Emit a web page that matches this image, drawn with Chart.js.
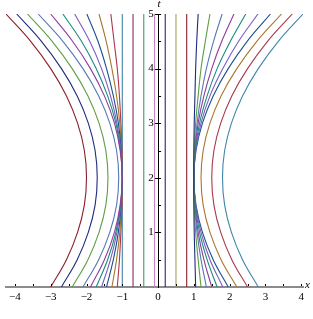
<!DOCTYPE html>
<html>
<head>
<meta charset="utf-8">
<script src="https://cdn.jsdelivr.net/npm/chart.js@4.4.1/dist/chart.umd.min.js"></script>
<style>
  html, body { margin: 0; padding: 0; background: #fff; }
  #wrap { width: 313px; height: 319px; position: relative; }
</style>
</head>
<body>
<div id="wrap"><canvas id="chart"></canvas></div>
<script>
// --- Data ---
const tSteps = [0, 0.5, 1, 1.5, 2, 2.5, 3, 3.5, 4, 4.5, 5];

// left curves turning at x = -2, -1.7, -1.4, -1.1
const leftOuter = [
    [-3, -2.56, -2.25, -2.06, -2, -2.06, -2.25, -2.56, -3, -3.56, -4.25],
    [-2.7, -2.26, -1.95, -1.76, -1.7, -1.76, -1.95, -2.26, -2.7, -3.26, -3.95],
    [-2.4, -1.96, -1.65, -1.46, -1.4, -1.46, -1.65, -1.96, -2.4, -2.96, -3.65],
    [-2.1, -1.66, -1.35, -1.16, -1.1, -1.16, -1.35, -1.66, -2.1, -2.66, -3.35]
];
// left curves touching x = -1
const leftInner = [
    [-1.89, -1.5, -1.22, -1.06, -1, -1.06, -1.22, -1.5, -1.89, -2.39, -3.0],
    [-1.73, -1.41, -1.18, -1.05, -1, -1.05, -1.18, -1.41, -1.73, -2.14, -2.66],
    [-1.58, -1.33, -1.15, -1.04, -1, -1.04, -1.15, -1.33, -1.58, -1.91, -2.33],
    [-1.44, -1.25, -1.11, -1.03, -1, -1.03, -1.11, -1.25, -1.44, -1.68, -1.99],
    [-1.29, -1.16, -1.07, -1.02, -1, -1.02, -1.07, -1.16, -1.29, -1.45, -1.65],
    [-1.14, -1.08, -1.04, -1.01, -1, -1.01, -1.04, -1.08, -1.14, -1.23, -1.32]
];
// straight lines in the middle
const verticals = [-1, -0.7, -0.4, -0.1, 0.2, 0.5, 0.8];
// right curves touching x = 1
const rightInner = [
    [1.05, 1.03, 1.01, 1.0, 1, 1.0, 1.01, 1.03, 1.05, 1.08, 1.12],
    [1.2, 1.12, 1.05, 1.01, 1, 1.01, 1.05, 1.12, 1.2, 1.32, 1.45],
    [1.35, 1.2, 1.09, 1.02, 1, 1.02, 1.09, 1.2, 1.35, 1.55, 1.79],
    [1.5, 1.28, 1.12, 1.03, 1, 1.03, 1.12, 1.28, 1.5, 1.78, 2.12],
    [1.65, 1.37, 1.16, 1.04, 1, 1.04, 1.16, 1.37, 1.65, 2.02, 2.45],
    [1.81, 1.45, 1.2, 1.05, 1, 1.05, 1.2, 1.45, 1.81, 2.25, 2.79],
    [1.96, 1.54, 1.24, 1.06, 1, 1.06, 1.24, 1.54, 1.96, 2.49, 3.14]
];
// right curves turning at x = 1.2, 1.5, 1.8
const rightOuter = [
    [2.2, 1.76, 1.45, 1.26, 1.2, 1.26, 1.45, 1.76, 2.2, 2.76, 3.45],
    [2.5, 2.06, 1.75, 1.56, 1.5, 1.56, 1.75, 2.06, 2.5, 3.06, 3.75],
    [2.8, 2.36, 2.05, 1.86, 1.8, 1.86, 2.05, 2.36, 2.8, 3.36, 4.05]
];

const xTicks = [-4, -3, -2, -1, 0, 1, 2, 3, 4];
const tTicks = [1, 2, 3, 4, 5];

// maple-ish palette, cycles every 16 curves
const palette = [
    '#8a1e2c', '#1f2b7e', '#5c9e45', '#5579b5', '#8e3c9b', '#1a8c7e', '#7b5cc4', '#1d4f8e',
    '#a9762e', '#a8394f', '#3f86aa', '#8d2c5e', '#3c9e6e', '#c485c4', '#3a1e7c', '#a3a352'
];

// --- Build datasets ---
const curves = [];
leftOuter.concat(leftInner).forEach(xs => curves.push(xs.map((x, i) => ({ x: x, y: tSteps[i] }))));
verticals.forEach(x => curves.push([{ x: x, y: 0 }, { x: x, y: 5 }]));
rightInner.concat(rightOuter).forEach(xs => curves.push(xs.map((x, i) => ({ x: x, y: tSteps[i] }))));

const datasets = curves.map((pts, i) => ({
    data: pts,
    showLine: true,
    borderColor: palette[i % palette.length],
    borderWidth: 1.1,
    pointRadius: 0,
    tension: 0.4,
    fill: false
}));

const serif = '"Liberation Serif", "DejaVu Serif", serif';
const minus = v => (v < 0 ? '\u2212' + Math.abs(v) : String(v));

// small tick marks + axis names
const axisMarks = {
    id: 'axisMarks',
    afterDraw(chart) {
        const { ctx, scales: { x, y } } = chart;
        const x0 = x.getPixelForValue(0);
        const y0 = y.getPixelForValue(0);
        ctx.save();
        ctx.strokeStyle = '#000';
        ctx.lineWidth = 1;
        ctx.beginPath();
        for (let v = -4; v <= 4; v += 0.5) {
            const px = Math.round(x.getPixelForValue(v)) + 0.5;
            ctx.moveTo(px, y0 - 3);
            ctx.lineTo(px, y0 - 1);
        }
        for (let v = 0.5; v <= 5; v += 0.5) {
            const py = Math.round(y.getPixelForValue(v)) + 0.5;
            ctx.moveTo(x0 - (v % 1 === 0 ? 3 : 0), py);
            ctx.lineTo(x0 + 3, py);
        }
        ctx.stroke();
        ctx.fillStyle = '#000';
        ctx.font = 'italic 11px ' + serif;
        ctx.textBaseline = 'middle';
        ctx.textAlign = 'left';
        ctx.fillText('x', x.right + 2, y0 - 2);
        ctx.textAlign = 'center';
        ctx.fillText('t', x0 + 1, y.top - 10);
        ctx.restore();
    }
};

new Chart(document.getElementById('chart'), {
    type: 'scatter',
    data: { datasets: datasets },
    options: {
        responsive: true,
        maintainAspectRatio: false,
        animation: false,
        layout: { padding: { left: 6, right: 10, top: 14, bottom: 0 } },
        plugins: { legend: { display: false }, tooltip: { enabled: false } },
        scales: {
            x: {
                type: 'linear',
                min: -4.25, max: 4.05,
                afterFit: s => { s.height = 32; },
                afterBuildTicks: s => { s.ticks = xTicks.map(v => ({ value: v })); },
                grid: { display: false, drawTicks: false },
                border: { display: true, color: '#8c8c8c', width: 2 },
                ticks: {
                    padding: 4, color: '#000', maxRotation: 0, autoSkip: false,
                    font: { family: serif, size: 11 },
                    callback: v => minus(v)
                }
            },
            y: {
                type: 'linear',
                position: { x: 0 },
                min: 0, max: 5,
                afterBuildTicks: s => { s.ticks = tTicks.map(v => ({ value: v })); },
                grid: { display: false, drawTicks: false },
                border: { display: true, color: '#000', width: 1 },
                ticks: {
                    padding: 5, color: '#000', autoSkip: false,
                    font: { family: serif, size: 11 },
                    // trailing thin spaces keep the label clear of the axis
                    callback: v => String(v) + '\u2009\u2009'
                }
            }
        }
    },
    plugins: [axisMarks]
});
</script>
</body>
</html>
